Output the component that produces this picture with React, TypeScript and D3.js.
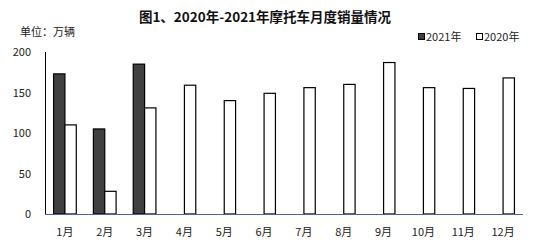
import React from "react";
import * as d3 from "d3";

const months = ["1月", "2月", "3月", "4月", "5月", "6月", "7月", "8月", "9月", "10月", "11月", "12月"];
const series = ["2021年", "2020年"];
const sales2021 = [173, 105, 185, null, null, null, null, null, null, null, null, null];
const sales2020 = [110, 28, 131, 159, 140, 149, 156, 160, 187, 156, 155, 168];
const yTicks = [0, 50, 100, 150, 200];

const W = 541, H = 246;
const left = 45, right = 523, top = 52, bottom = 214;
const font = "'Noto Sans CJK SC', 'Noto Sans', sans-serif";

export default function App() {
  const x = d3.scaleBand<string>().domain(months).range([left, right]).paddingInner(0.43).paddingOuter(0.215);
  const x1 = d3.scaleBand<string>().domain(series).range([0, x.bandwidth()]);
  const y = d3.scaleLinear().domain([0, 200]).range([bottom, top]);
  const data = [sales2021, sales2020];
  const fills = ["#404040", "#ffffff"];
  return (
    <svg width={W} height={H} style={{ position: "absolute", left: 0, top: 0, background: "#fff" }} fontFamily={font}>
      <text x={265} y={22} textAnchor="middle" fontSize={13.5} fontWeight="bold" fill="#111">图1、2020年-2021年摩托车月度销量情况</text>
      <text x={20} y={36} fontSize={11} fill="#222">单位：万辆</text>
      {series.map((s, i) => {
        const lx = i === 0 ? 418 : 476;
        return (
          <g key={s}>
            <rect x={lx + 0.5} y={33.5} width={6} height={6} fill={fills[i]} stroke="#000" strokeWidth={1} />
            <text x={lx + 8} y={41} fontSize={11} fill="#222">{s}</text>
          </g>
        );
      })}
      {yTicks.map((t) => (
        <text key={t} x={31} y={y(t) + 4} textAnchor="end" fontSize={11} fill="#222">{t}</text>
      ))}
      <line x1={left + 0.5} x2={left + 0.5} y1={top} y2={bottom} stroke="#000" strokeWidth={1} />
      {data.map((arr, si) =>
        arr.map((v, mi) =>
          v == null ? null : (
            <rect
              key={si + "-" + mi}
              x={(x(months[mi]) as number) + (x1(series[si]) as number)}
              y={y(v)}
              width={x1.bandwidth()}
              height={bottom - y(v)}
              fill={fills[si]}
              stroke="#000"
              strokeWidth={1.2}
            />
          )
        )
      )}
      <line x1={left} x2={right} y1={bottom + 0.5} y2={bottom + 0.5} stroke="#5060a8" strokeWidth={1} />
      {months.map((m) => (
        <text key={m} x={(x(m) as number) + x.bandwidth() / 2} y={236} textAnchor="middle" fontSize={11} fill="#222">{m}</text>
      ))}
    </svg>
  );
}
